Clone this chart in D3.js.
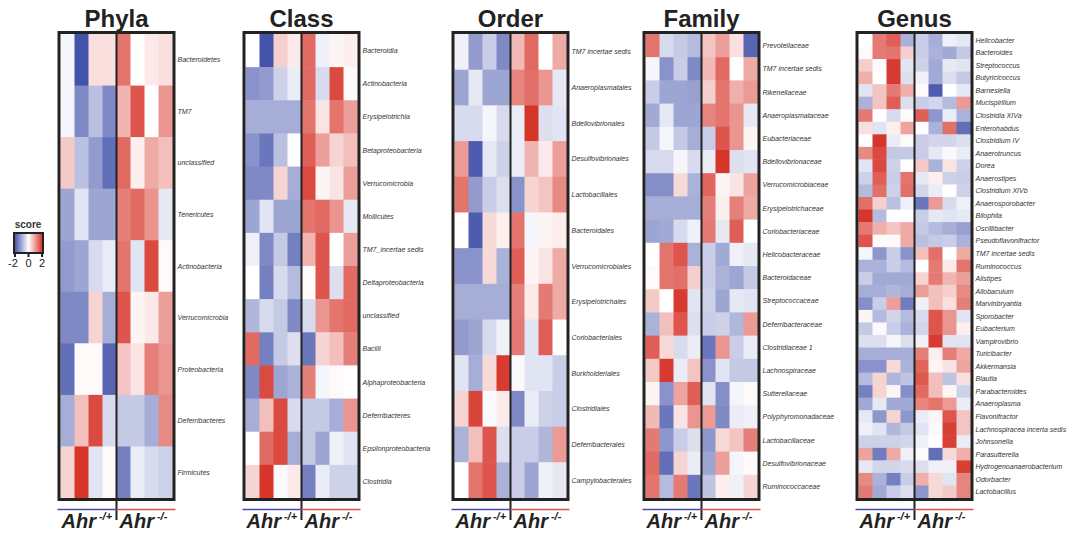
<!DOCTYPE html>
<html>
<head>
<meta charset="utf-8">
<script src="https://cdn.jsdelivr.net/npm/d3@7"></script>
<style>
  body { margin:0; background:#fff; }
  svg { display:block; font-family:"Liberation Sans", Arial, sans-serif; }
</style>
</head>
<body>
<svg></svg>
<script>
// z-scores, 4 Ahr -/+ columns then 4 Ahr -/- columns per row
var phylaNames = ["Bacteroidetes","TM7","unclassified","Tenericutes","Actinobacteria","Verrucomicrobia","Proteobacteria","Deferribacteres","Firmicutes"];
var phylaValues = [
  [-0.1,-1.9,0.3,0.3, 1.3,0,0.2,0.3],
  [-0.1,-1.3,-0.7,-1.3, 0.7,1.6,0,1.0],
  [0.5,-0.7,-1.1,-1.6, 1.4,0.15,0.8,0.6],
  [-1.0,-0.3,-1.0,-1.0, 1.2,1.4,1.0,-0.25],
  [-1.1,-1.0,-0.4,-0.2, 1.3,-0.3,1.7,0.05],
  [-1.3,-1.3,0.4,-0.9, 1.6,0.1,0.2,0.9],
  [-1.6,0.05,0.05,-1.7, 0.55,0.25,1.2,1.0],
  [-0.9,0.6,1.7,-0.4, -0.6,-0.6,-0.9,1.1],
  [0.4,1.9,-0.3,0.05, -1.4,-0.2,-0.4,-0.5]
];

var classNames = ["Bacteroidia","Actinobacteria","Erysipelotrichia","Betaproteobacteria","Verrucomicrobia","Mollicutes","TM7_incertae sedis","Deltaproteobacteria","unclassified","Bacilli","Alphaproteobacteria","Deferribacteres","Epsilonproteobacteria","Clostridia"];
var classValues = [
  [0,-1.9,0.45,0.2, 1.4,-0.15,0.1,0.15],
  [-1.2,-1.1,-0.5,-0.2, 1.4,-0.4,1.7,0.05],
  [-0.9,-0.9,-0.9,-0.9, 1.3,0.25,1.3,0.9],
  [-1.2,-1.5,-0.7,0, 1.5,0.9,0.4,0.6],
  [-1.3,-1.3,0.4,-0.9, 1.7,0.1,0.25,0.9],
  [-1.0,-0.3,-1.0,-1.0, 1.3,1.4,1.0,-0.25],
  [-0.15,-1.3,-0.6,-1.4, 0.7,1.6,0,0.9],
  [0,-1.4,-0.4,-0.75, 0.05,1.6,-0.35,1.4],
  [-0.8,-0.4,-0.6,-1.3, -0.4,1.0,1.3,1.4],
  [1.4,-1.4,-0.6,-0.35, -1.5,0.4,0.6,1.2],
  [-1.3,1.7,-1.0,-0.85, 1.2,-0.1,0.05,0],
  [-0.9,0.6,1.7,-0.4, -0.6,-0.6,-0.9,1.0],
  [0,1.4,1.7,-0.9, -0.6,-1.0,-0.15,-0.3],
  [0.4,1.9,-0.05,0.2, -1.4,-0.2,-0.5,-0.5]
];

var orderNames = ["TM7 incertae sedis","Anaeroplasmatales","Bdellovibrionales","Desulfovibrionales","Lactobacillales","Bacteroidales","Verrucomicrobiales","Erysipelotrichales","Coriobacteriales","Burkholderiales","Clostridiales","Deferribacterales","Campylobacterales"];
var orderValues = [
  [-0.15,-1.1,-0.55,-1.3, 0.65,1.4,0,0.8],
  [-1.0,-0.25,-1.0,-1.0, 1.15,1.35,1.0,-0.25],
  [-0.4,-0.4,-0.1,-0.4, -0.2,1.9,-0.35,-0.3],
  [0.95,-1.8,-0.25,-0.5, -0.2,0.7,0.2,0.9],
  [1.3,-1.1,-0.55,-0.35, -1.2,0.4,0.55,1.1],
  [0,-1.8,0.35,0.15, 1.3,-0.1,0.1,0.15],
  [-1.2,-1.2,0.35,-0.85, 1.5,0.1,0.25,0.8],
  [-0.9,-0.9,-0.9,-0.9, 1.2,0.2,1.25,0.8],
  [-1.1,-1.0,-0.4,-0.15, 1.25,-0.3,1.5,0],
  [-0.3,-0.9,0.35,1.85, -0.05,-0.3,-0.3,-0.55],
  [0.4,1.75,-0.05,0.2, -1.3,-0.2,-0.5,-0.55],
  [-0.85,0.6,1.6,-0.35, -0.55,-0.55,-0.8,0.95],
  [0,1.3,1.6,-0.85, -0.55,-1.0,-0.15,-0.25]
];

var familyNames = ["Prevotellaceae","TM7 incertae sedis","Rikenellaceae","Anaeroplasmataceae","Eubacteriaceae","Bdellovibrionaceae","Verrucomicrobiaceae","Erysipelotrichaceae","Coriobacteriaceae","Helicobacteraceae","Bacteroidaceae","Streptococcaceae","Deferribacteraceae","Clostridiaceae 1","Lachnospiraceae","Sutterellaceae","Polyphyromonadaceae","Lactobacillaceae","Desulfovibrionaceae","Ruminococcaceae"];
var familyValues = [
  [1.3,-0.4,-0.6,-0.75, 0.55,0.9,0.3,-1.7],
  [-0.1,-1.2,-0.55,-1.3, 0.65,1.4,0,0.8],
  [-0.55,-1.0,-1.0,-1.05, 0.45,1.3,0.75,0.95],
  [-0.95,-0.25,-1.0,-1.0, 1.15,1.3,1.0,-0.25],
  [-0.6,-0.1,-0.6,-0.9, -0.55,1.6,1.0,0.1],
  [-0.4,-0.4,-0.1,-0.4, -0.2,1.9,-0.35,-0.3],
  [-1.25,-1.25,0.35,-0.85, 1.45,0.1,0.25,0.85],
  [-0.9,-0.9,-0.9,-0.9, 1.2,0.15,1.2,0.8],
  [-1.0,-0.95,-0.4,-0.15, 1.25,-0.25,1.5,0],
  [0,1.3,1.6,-0.85, -0.55,-0.95,-0.15,-0.25],
  [0.05,1.3,1.35,0.45, -0.55,-0.85,-1.0,-0.6],
  [0.5,0,1.85,-0.3, -0.5,-1.0,-0.25,-0.3],
  [-0.85,0.6,1.6,-0.35, -0.55,-0.5,-0.8,0.95],
  [1.5,0.35,-0.4,-0.2, -1.5,1.0,-0.55,-0.2],
  [0.5,1.85,-0.2,0.55, -1.2,-0.3,-0.6,-0.6],
  [0.1,-1.2,0.85,1.5, -0.3,-1.25,-0.1,0.05],
  [0.65,-1.5,0.25,1.0, 0.95,-1.3,-0.2,-0.15],
  [1.25,-1.15,-0.55,-0.35, -1.15,0.35,0.55,1.2],
  [1.4,-1.6,0.4,-0.2, -1.0,0.9,-0.1,0.05],
  [1.3,-0.75,1.25,-1.5, -0.65,0.15,-0.15,0.4]
];

var genusNames = ["Helicobacter","Bacteroides","Streptococcus","Butyricicoccus","Barnesiella","Mucispirillum","Clostridia XIVa","Enterohabdus","Clostridium IV","Anaerotruncus","Dorea","Anaerostipes","Clostridium XIVb","Anaerosporobacter","Bilophila","Oscillibacter","Pseudoflavonifractor","TM7 incertae sedis","Ruminococcus","Alistipes","Allobaculum","Marvinbryantia","Sporobacter","Eubacterium","Vampirovibrio","Turicibacter","Akkermansia","Blautia","Parabacteroides","Anaeroplasma","Flavonifractor","Lachnospiracea incerta sedis","Johnsonella","Parasutterella","Hydrogenoanaerobacterium","Odorbacter","Lactobacillus"];
var genusValues = [
  [0,1.25,1.5,-0.85, -0.55,-0.9,-0.15,-0.25],
  [0.05,1.25,1.3,0.45, -0.55,-0.85,-0.95,-0.6],
  [0.45,-0.05,1.85,-0.3, -0.5,-0.95,-0.25,-0.3],
  [0.75,0,1.85,-0.35, -0.15,-0.95,-0.35,-0.6],
  [-0.3,0.55,1.25,0.75, 0.05,-1.8,0,-0.25],
  [-0.85,0.55,1.5,-0.35, -0.55,-0.45,-0.75,0.95],
  [1.25,0,-0.4,0.05, 1.5,-1.15,-0.2,-0.85],
  [0.3,-0.3,0.15,0.85, 0,-0.85,1.35,-1.6],
  [0,1.9,-0.2,0.05, -0.55,-0.45,-0.45,-0.35],
  [1.1,1.7,-0.6,-0.6, -0.55,-0.25,-0.05,-0.2],
  [-0.3,1.7,-0.5,0, 0.5,-0.85,0.25,-0.5],
  [-0.5,1.5,-0.55,1.3, -0.25,0.15,-0.5,-0.55],
  [-0.75,1.35,-0.5,1.35, -0.45,-0.2,0,-0.5],
  [1.35,0.45,-0.7,-0.15, -1.5,0.95,-0.4,-0.15],
  [1.9,-0.75,0,0, -0.55,-0.25,-0.3,-0.25],
  [1.25,0.75,0.55,0.8, -0.6,-0.75,-0.9,-1.05],
  [1.6,0.05,0.05,0.8, -0.7,-0.6,-0.55,-0.85],
  [-0.1,-1.15,-0.55,-1.2, 0.6,1.35,0,0.8],
  [-0.85,-0.85,-0.55,-0.75, 0,1.25,0.2,1.3],
  [-0.55,-0.95,-0.95,-0.95, 0.4,1.25,0.7,0.9],
  [-0.9,-0.9,-0.8,-0.9, 0.9,0.6,0.45,1.1],
  [-1.25,-0.55,0.9,-1.45, -0.15,0.6,0.3,1.2],
  [0.1,-0.75,-0.45,-0.75, -0.4,1.6,1.0,-0.3],
  [-0.6,-0.05,-0.55,-0.85, -0.45,1.6,1.0,0.15],
  [-0.35,-0.35,-0.1,-0.35, -0.15,1.85,-0.3,-0.3],
  [-0.9,-0.9,-0.9,-0.9, 1.2,0.15,1.2,0.8],
  [-1.2,-1.2,0.35,-0.85, 1.45,0.1,0.25,0.85],
  [-0.75,0.4,-0.8,-0.65, 1.55,0.6,-0.65,0.3],
  [-1.4,0.4,0.1,-1.25, 1.4,0.6,0.1,-0.5],
  [-0.95,-0.25,-0.95,-0.95, 1.15,1.3,0.95,-0.2],
  [-0.25,-1.15,0.4,-1.15, -0.2,0.1,1.6,0.55],
  [-0.15,-0.3,-0.8,-0.6, -0.3,-0.05,1.8,0.55],
  [-0.5,-0.5,-0.5,-0.45, -0.15,0,1.8,-0.2],
  [0.85,-1.45,0.8,-0.15, 0.05,-1.6,0.35,0.75],
  [-0.25,-0.45,-0.45,-0.4, -0.35,-0.15,-0.15,1.8],
  [1.1,-0.85,-1.4,-0.55, 0.75,0.35,-0.3,1.15],
  [1.25,-0.95,-0.55,-0.35, -1.15,0.35,0.5,1.15]
];

var groupLabels = ["-/+","-/-"];
var legendTicks = [-2,0,2];

var svg = d3.select("svg")
            .attr("width",1073)
            .attr("height",533);

var color = d3.scaleLinear()
              .domain([-2,0,2])
              .range(["#3a4aa6","#ffffff","#d42a1f"])
              .clamp(true);

var panels = [
  {title:"Phyla",  names:phylaNames,  values:phylaValues,  x:60.5},
  {title:"Class",  names:classNames,  values:classValues,  x:245.5},
  {title:"Order",  names:orderNames,  values:orderValues,  x:454.5},
  {title:"Family", names:familyNames, values:familyValues, x:645.5},
  {title:"Genus",  names:genusNames,  values:genusValues,  x:858.5}
];

var plotTop = 34, plotBottom = 498, cellsW = 112;

panels.forEach(function(p)
{
  var xScale = d3.scaleBand()
                 .domain(d3.range(8))
                 .range([p.x, p.x+cellsW]);
  var yScale = d3.scaleBand()
                 .domain(p.names)
                 .range([plotTop, plotBottom]);

  var g = svg.append("g").classed("panel",true);

  //cells
  var rows = g.selectAll("g.row")
              .data(p.values)
              .enter()
              .append("g")
              .classed("row",true)
              .attr("transform",function(d,i) {return "translate(0,"+yScale(p.names[i])+")";});

  rows.selectAll("rect")
      .data(function(d) {return d;})
      .enter()
      .append("rect")
      .attr("x",function(d,i) {return xScale(i);})
      .attr("y",0)
      .attr("width",xScale.bandwidth()+0.5)
      .attr("height",yScale.bandwidth()+0.5)
      .attr("fill",function(d) {return color(d);});

  var mid = xScale(4);

  //frame and divider
  g.append("rect")
   .attr("x",p.x-1.5)
   .attr("y",plotTop-1.5)
   .attr("width",cellsW+3)
   .attr("height",plotBottom-plotTop+3)
   .attr("fill","none")
   .attr("stroke","#222")
   .attr("stroke-width",3);

  g.append("line")
   .attr("x1",mid).attr("x2",mid)
   .attr("y1",plotTop).attr("y2",520)
   .attr("stroke","#222")
   .attr("stroke-width",2);

  //group lines
  g.append("line")
   .attr("x1",p.x-3).attr("x2",mid)
   .attr("y1",509.5).attr("y2",509.5)
   .attr("stroke","#4a4aa8")
   .attr("stroke-width",1.6);
  g.append("line")
   .attr("x1",mid).attr("x2",p.x+cellsW+3)
   .attr("y1",509.5).attr("y2",509.5)
   .attr("stroke","#e05048")
   .attr("stroke-width",1.6);

  //title
  g.append("text")
   .attr("x",p.x+cellsW/2)
   .attr("y",27)
   .attr("text-anchor","middle")
   .attr("font-size",24)
   .attr("font-weight","bold")
   .attr("fill","#222")
   .text(p.title);

  //row labels
  g.selectAll("text.lab")
   .data(p.names)
   .enter()
   .append("text")
   .classed("lab",true)
   .attr("x",p.x+cellsW+5)
   .attr("y",function(d) {return yScale(d)+yScale.bandwidth()/2+2.5;})
   .attr("font-size",7)
   .attr("font-style","italic")
   .attr("fill","#333")
   .text(function(d) {return d;});

  //group labels
  groupLabels.forEach(function(s,k)
  {
    var t = g.append("text")
             .attr("x",k==0 ? p.x+1 : mid+3)
             .attr("y",528)
             .attr("font-size",20)
             .attr("font-weight","bold")
             .attr("font-style","italic")
             .attr("fill","#222");
    t.append("tspan").text("Ahr");
    t.append("tspan")
     .attr("dx",3)
     .attr("dy",-8)
     .attr("font-size",11)
     .text(s);
  });
});

//the legend
var defs = svg.append("defs");
var grad = defs.append("linearGradient").attr("id","scoreGrad");
grad.selectAll("stop")
    .data(d3.range(-2,2.01,0.5))
    .enter()
    .append("stop")
    .attr("offset",function(d) {return ((d+2)/4*100)+"%";})
    .attr("stop-color",function(d) {return color(d);});

var lScale = d3.scaleLinear().domain([-2,2]).range([15,42]);

var legend = svg.append("g").classed("legend",true);
legend.append("text")
      .attr("x",28)
      .attr("y",228)
      .attr("text-anchor","middle")
      .attr("font-size",10)
      .attr("font-weight","bold")
      .attr("fill","#333")
      .text("score");
legend.append("rect")
      .attr("x",14).attr("y",233)
      .attr("width",29).attr("height",20)
      .attr("fill","url(#scoreGrad)")
      .attr("stroke","#222")
      .attr("stroke-width",2);
legend.selectAll("line.tick")
      .data(legendTicks)
      .enter()
      .append("line")
      .classed("tick",true)
      .attr("x1",function(d) {return lScale(d);})
      .attr("x2",function(d) {return lScale(d);})
      .attr("y1",253).attr("y2",257)
      .attr("stroke","#222")
      .attr("stroke-width",2);
legend.selectAll("text.tl")
      .data(legendTicks)
      .enter()
      .append("text")
      .classed("tl",true)
      .attr("x",function(d) {return lScale(d)-(d<0 ? 2 : 0);})
      .attr("y",267)
      .attr("text-anchor","middle")
      .attr("font-size",11)
      .attr("fill","#222")
      .text(function(d) {return d;});
</script>
</body>
</html>
